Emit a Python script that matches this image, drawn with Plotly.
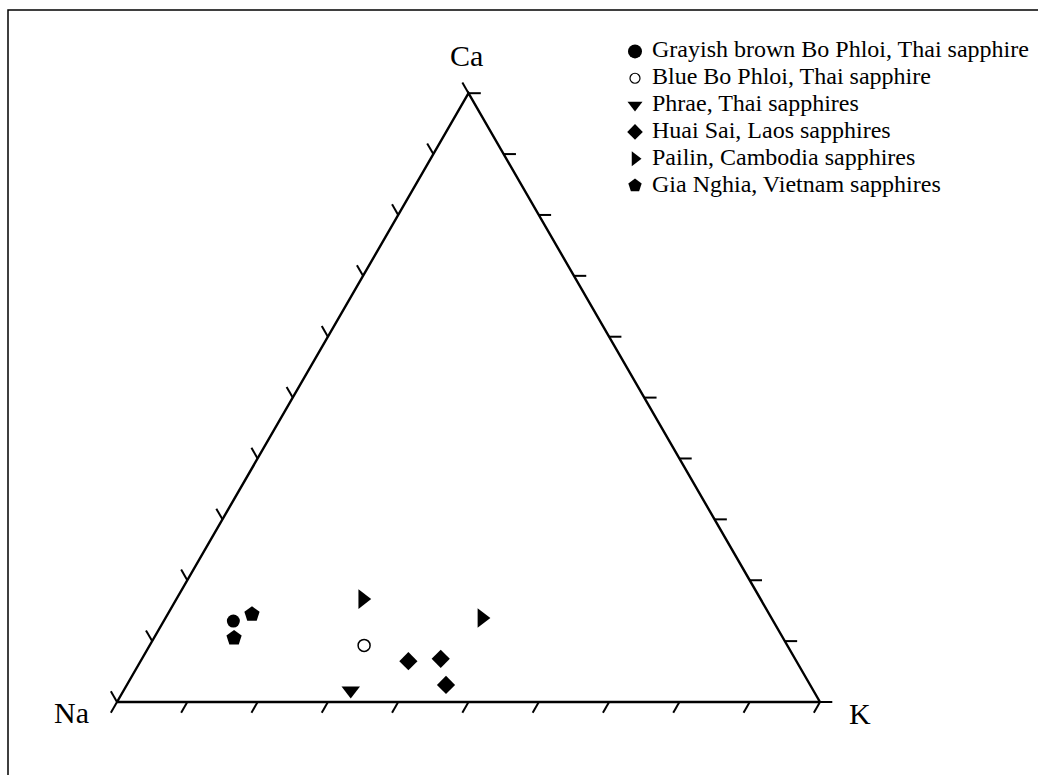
import math
import plotly.graph_objects as go

# ---------------- data (ternary compositions, %) ----------------
SERIES = [
    "Grayish brown Bo Phloi, Thai sapphire",
    "Blue Bo Phloi, Thai sapphire",
    "Phrae, Thai sapphires",
    "Huai Sai, Laos sapphires",
    "Pailin, Cambodia sapphires",
    "Gia Nghia, Vietnam sapphires",
]
NA = [[76.8], [60.2], [65.8], [55.2, 50.4, 51.8], [56.6, 41.2], [73.6, 78.1]]
K = [[9.9], [30.5], [32.3], [38.1, 42.5, 45.4], [26.5, 45.0], [12.0, 11.4]]
CA = [[13.3], [9.3], [1.9], [6.7, 7.1, 2.8], [16.9, 13.8], [14.4, 10.5]]
TICKS = [0, 10, 20, 30, 40, 50, 60, 70, 80, 90, 100]
VERTEX_LABELS = ["Na", "K", "Ca"]

# ---------------- styles ----------------
SYMBOLS = ["circle", "circle-open", "triangle-down", "diamond", "triangle-right", "pentagon"]
SIZES = [13, 12, 16, 14, 17, 16]
LEG_SIZES = [14, 10, 13, 12, 13, 14]
FONT = "Liberation Serif"
S3 = math.sqrt(3) / 2


def to_xy(na, k, ca):
    tot = [a + b + c for a, b, c in zip(na, k, ca)]
    x = [100 * (kk + cc / 2) / t for kk, cc, t in zip(k, ca, tot)]
    y = [100 * cc * S3 / t for cc, t in zip(ca, tot)]
    return x, y


fig = go.Figure()

# triangle outline
fig.add_trace(go.Scatter(
    x=[0, 100, 50, 0], y=[0, 0, 100 * S3, 0], mode="lines",
    line=dict(color="black", width=2.4), hoverinfo="skip", showlegend=False))

# ticks
L = 1.75
tx, ty = [], []
for t in TICKS:
    # bottom edge, ticks pointing down-left
    tx += [t, t - L * 0.5, None]
    ty += [0, -L * S3, None]
    # left edge, ticks pointing up-left
    x0, y0 = t / 2, t * S3
    tx += [x0, x0 - L * 0.5, None]
    ty += [y0, y0 + L * S3, None]
    # right edge, ticks horizontal to the right
    x0, y0 = 100 - t / 2, t * S3
    tx += [x0, x0 + L, None]
    ty += [y0, y0, None]
fig.add_trace(go.Scatter(x=tx, y=ty, mode="lines", line=dict(color="black", width=2),
                         hoverinfo="skip", showlegend=False))

# data points
for i, name in enumerate(SERIES):
    x, y = to_xy(NA[i], K[i], CA[i])
    fig.add_trace(go.Scatter(
        x=x, y=y, mode="markers", name=name, showlegend=False,
        marker=dict(symbol=SYMBOLS[i], size=SIZES[i], color="black",
                    line=dict(color="black", width=1.5 if i == 1 else 0))))

# legend drawn on its own small axes (categorical rows)
for i, name in enumerate(SERIES):
    fig.add_trace(go.Scatter(
        x=[0], y=[name], mode="markers", xaxis="x2", yaxis="y2", showlegend=False,
        marker=dict(symbol=SYMBOLS[i], size=LEG_SIZES[i], color="black",
                    line=dict(color="black", width=1.2 if i == 1 else 0)),
        hoverinfo="skip"))
fig.add_trace(go.Scatter(
    x=[17] * len(SERIES), y=SERIES, text=SERIES, mode="text", textposition="middle right",
    textfont=dict(family=FONT, size=24, color="black"), xaxis="x2", yaxis="y2",
    showlegend=False, hoverinfo="skip"))

# vertex labels
vx, vy = [0, 100, 50], [0, 0, 100 * S3]
shifts = [(-46, -10), (40, -11), (-2, 38)]
for lab, x, y, (dx, dy) in zip(VERTEX_LABELS, vx, vy, shifts):
    fig.add_annotation(x=x, y=y, text=lab, showarrow=False, xshift=dx, yshift=dy,
                       xanchor="center", yanchor="middle",
                       font=dict(family=FONT, size=30, color="black"))

W, H = 1038, 775
fig.update_layout(
    width=W, height=H, margin=dict(l=0, r=0, t=0, b=0),
    paper_bgcolor="white", plot_bgcolor="white",
    font=dict(family=FONT, color="black"),
    xaxis=dict(range=[-16.643, 131.01], visible=False, domain=[0, 1]),
    yaxis=dict(range=[-10.384, 99.86], visible=False, domain=[0, 1]),
    xaxis2=dict(domain=[602 / W, 1.0], range=[-33, 403], visible=False, anchor="y2"),
    yaxis2=dict(domain=[1 - 199 / H, 1 - 38 / H], type="category",
                range=[len(SERIES) - 0.5, -0.5], visible=False, anchor="x2"),
    shapes=[dict(type="rect", xref="paper", yref="paper",
                 x0=8 / W, x1=1.02, y0=-0.02, y1=1 - 10 / H,
                 line=dict(color="black", width=1.5))],
    showlegend=False,
)

fig.write_html("out.html")
